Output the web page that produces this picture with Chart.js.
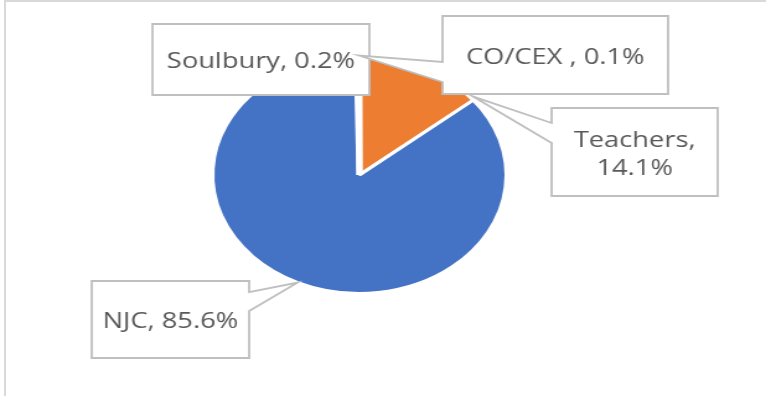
<!DOCTYPE html>
<html>
<head>
<meta charset="utf-8">
<title>Staff groups</title>
<script src="https://cdn.jsdelivr.net/npm/chart.js@4.4.1/dist/chart.umd.min.js"></script>
<style>
    html, body { margin: 0; padding: 0; background: #fff; overflow: hidden; }
    #frame {
        position: absolute; left: 4px; top: 0; width: 762px; height: 396px;
        border-left: 2px solid #d9d9d9; border-top: 2px solid #d9d9d9;
        box-sizing: border-box;
    }
    /* the pie is drawn as a circle on a narrower canvas and widened into an ellipse */
    #wrap {
        position: absolute; left: 0; top: 0; width: 618px; height: 396px;
        transform: scaleX(1.2395); transform-origin: 0 0;
    }
</style>
</head>
<body>
<div id="frame"></div>
<div id="wrap"><canvas id="pieChart" width="618" height="396"></canvas></div>

<script>
// Share of staff by pay group
const categories = ['Teachers', 'NJC', 'Soulbury', 'CO/CEX '];
const shares = [14.1, 85.6, 0.2, 0.1];
const sliceColours = ['#ED7D31', '#4472C4', '#A5A5A5', '#FFC000'];

// Callout boxes (canvas units): box, which side the pointer leaves from,
// where along the slice it points (0 = start, 1 = end) and whether to wrap
const callouts = [
    { x: 445, y: 108, w: 134, h: 88, side: 'left', base: [123, 143], along: 0.97, reach: 2, wrap: true },
    { x: 74, y: 281, w: 127, h: 77, side: 'right', base: [292, 311], along: 0.5, reach: 0, wrap: false },
    { x: 123, y: 24, w: 175, h: 71, side: null, base: null, along: 0.5, reach: 0, wrap: false },
    { x: 357, y: 16, w: 182, h: 78, side: 'left', base: [62, 82], along: 0.5, reach: 1, wrap: false }
];

function calloutPath(ctx, box, tip) {
    const { x, y, w, h, side, base } = box;
    ctx.beginPath();
    ctx.moveTo(x, y);
    ctx.lineTo(x + w, y);
    if (side === 'right') {
        ctx.lineTo(x + w, base[0]);
        ctx.lineTo(tip.x, tip.y);
        ctx.lineTo(x + w, base[1]);
    }
    ctx.lineTo(x + w, y + h);
    ctx.lineTo(x, y + h);
    if (side === 'left') {
        ctx.lineTo(x, base[1]);
        ctx.lineTo(tip.x, tip.y);
        ctx.lineTo(x, base[0]);
    }
    ctx.closePath();
}

const calloutLabels = {
    id: 'calloutLabels',
    afterDatasetsDraw(chart) {
        const ctx = chart.ctx;
        const arcs = chart.getDatasetMeta(0).data;
        ctx.save();
        arcs.forEach((arc, i) => {
            const box = callouts[i];
            const { x, y, startAngle, endAngle, outerRadius } = arc.getProps(['x', 'y', 'startAngle', 'endAngle', 'outerRadius'], true);
            const a = startAngle + (endAngle - startAngle) * box.along;
            const r = outerRadius + box.reach;
            const tip = { x: x + Math.cos(a) * r, y: y + Math.sin(a) * r };

            calloutPath(ctx, box, tip);
            ctx.fillStyle = '#ffffff';
            ctx.fill();
            ctx.lineWidth = 1.8;
            ctx.strokeStyle = '#bfbfbf';
            ctx.lineJoin = 'miter';
            ctx.stroke();

            const lines = box.wrap
                ? [categories[i] + ',', shares[i].toFixed(1) + '%']
                : [categories[i] + ', ' + shares[i].toFixed(1) + '%'];
            ctx.font = '22px "Open Sans"';
            ctx.fillStyle = '#595959';
            ctx.textAlign = 'center';
            ctx.textBaseline = 'alphabetic';
            const cx = box.x + box.w / 2;
            const cy = box.y + box.h / 2 + 8.5;
            const lineHeight = 28;
            lines.forEach((line, k) => {
                ctx.fillText(line, cx, cy + (k - (lines.length - 1) / 2) * lineHeight);
            });
        });
        ctx.restore();
    }
};

new Chart(document.getElementById('pieChart'), {
    type: 'pie',
    data: {
        labels: categories,
        datasets: [{
            data: shares,
            backgroundColor: sliceColours,
            borderColor: '#ffffff',
            // the two slivers get a wider white edge so they read as a gap
            borderWidth: [3, 3, 5, 5],
            borderJoinStyle: 'bevel',
            hoverOffset: 0
        }]
    },
    options: {
        responsive: false,
        animation: false,
        events: [],
        rotation: 0,
        radius: 118.5,
        layout: { padding: { left: 0, right: 38, top: 0, bottom: 46 } },
        plugins: {
            legend: { display: false },
            tooltip: { enabled: false }
        }
    },
    plugins: [calloutLabels]
});
</script>
</body>
</html>
